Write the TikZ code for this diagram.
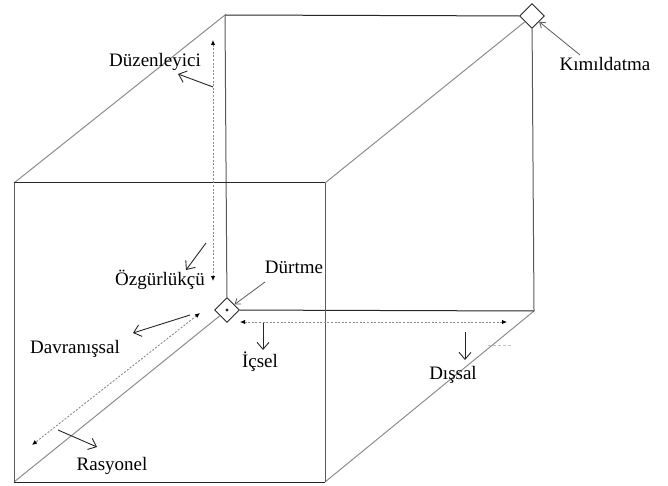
\documentclass[tikz,border=0pt]{standalone}
\usepackage{fontspec}
\setmainfont{Liberation Serif}
\usepackage{tikz}
\usetikzlibrary{shapes.geometric}
\usetikzlibrary{arrows.meta}
\definecolor{edgeDark}{HTML}{262626}
\definecolor{edgeMid}{HTML}{5A5A5A}
\definecolor{edgeLight}{HTML}{8C8C8C}
\definecolor{axisGray}{HTML}{8A8A8A}

\begin{document}
\begin{tikzpicture}[x=1pt, y=-1pt,
			knot/.style={
				diamond, draw=edgeDark, line width=0.9pt, aspect=1,
				minimum width=25pt, minimum height=25pt, inner sep=0pt
			},
			hedge/.style={edgeDark, line width=1pt},
			vedge/.style={edgeMid, line width=1pt},
			dedge/.style={edgeLight, line width=1pt},
			axisline/.style={
				axisGray, line width=0.9pt, dash pattern=on 2pt off 1.6pt,
				{Latex[length=5pt, width=4.5pt, black]}-{Latex[length=5pt, width=4.5pt, black]}
			},
			pointer/.style={-{Straight Barb[length=7pt, width=12pt]}, edgeDark, line width=0.9pt},
			thinpointer/.style={-{Straight Barb[length=5pt, width=7pt]}, edgeMid, line width=0.8pt},
			lbl/.style={font=\fontsize{19}{21}\selectfont, inner sep=0pt, anchor=base}
			]
			\useasboundingbox (0,0) rectangle (668,486);
			
			\coordinate (f1) at (14,183);
			\coordinate (f2) at (325,183);
			\coordinate (f3) at (325,482);
			\coordinate (f4) at (14,482);
			\coordinate (b1) at (225,15);
			\coordinate (b3) at (534,311);
			
			\node[knot] (durtme) at (227,310) {};
			\node[knot] (kimil) at (532,16) {};
			\fill[edgeDark] (durtme.center) circle (1.6pt);
			
			\draw[dedge] (f1) -- (b1);
			\draw[dedge] (f2) -- (kimil);
			\draw[dedge] (f3) -- (b3);
			\draw[dedge] (f4) -- (durtme);
			
			\draw[hedge] (b1) -- (kimil);
			\draw[vedge] (kimil) -- (b3);
			\draw[hedge] (b3) -- (durtme);
			\draw[vedge] (durtme) -- (b1);
			
			\draw[hedge] (f1) -- (f2);
			\draw[vedge] (f2) -- (f3);
			\draw[hedge] (f3) -- (f4);
			\draw[vedge] (f4) -- (f1);
			
			\coordinate (vtop) at (213,40);
			\coordinate (vbot) at (213,281);
			\coordinate (dtop) at (200,313);
			\coordinate (dbot) at (32,445);
			\coordinate (hleft) at (240,322);
			\coordinate (hright) at (507,322);
			\draw[axisline] (vtop) -- (vbot);
			\draw[axisline] (dtop) -- (dbot);
			\draw[axisline] (hleft) -- (hright);
			\draw[black!25, line width=0.8pt, dash pattern=on 3pt off 2pt] (488,345) -- (513,345);
			
			\node[lbl] (duzen) at (155,67) {Düzenleyici};
			\node[lbl] (ozgur) at (160,285) {Özgürlükçü};
			\node[lbl] (durtlbl) at (294,273) {Dürtme};
			\node[lbl] (davran) at (75,353) {Davranışsal};
			\node[lbl] (rasyo) at (112,470) {Rasyonel};
			\node[lbl] (icsel) at (260,367) {İçsel};
			\node[lbl] (dissal) at (453,379) {Dışsal};
			\node[lbl] (kimlbl) at (605,71) {Kımıldatma};
			
			\coordinate (duzenFrom) at (213,87);
			\coordinate (duzenTo) at (178,74);
			\coordinate (ozgurFrom) at (206,243);
			\coordinate (ozgurTo) at (186,270);
			\coordinate (davranFrom) at (190,315);
			\coordinate (davranTo) at (133,333);
			\coordinate (rasyoFrom) at (58,430);
			\coordinate (rasyoTo) at (97,447);
			\coordinate (icselFrom) at (263,323);
			\coordinate (icselTo) at (263,350);
			\coordinate (dissalFrom) at (465,332);
			\coordinate (dissalTo) at (465,360);
			\coordinate (durtFrom) at (265,282);
			\coordinate (kimilFrom) at (580,55);
			
			\draw[pointer] (duzenFrom) -- (duzenTo);
			\draw[pointer] (ozgurFrom) -- (ozgurTo);
			\draw[pointer] (davranFrom) -- (davranTo);
			\draw[pointer] (rasyoFrom) -- (rasyoTo);
			\draw[pointer] (icselFrom) -- (icselTo);
			\draw[pointer] (dissalFrom) -- (dissalTo);
			\draw[thinpointer] (durtFrom) -- (durtme);
			\draw[thinpointer] (kimilFrom) -- (kimil);
			
		\end{tikzpicture}
\end{document}
